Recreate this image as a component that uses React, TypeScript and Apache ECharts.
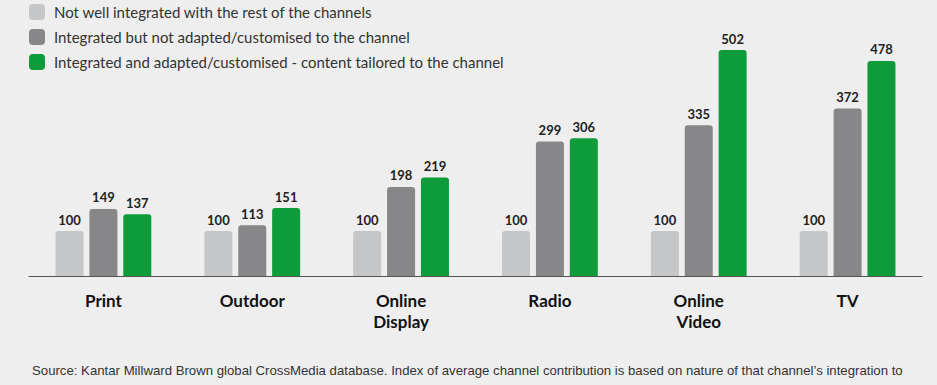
import React, { useEffect, useRef } from "react";
import * as echarts from "echarts";

const categories = ["Print", "Outdoor", "Online\nDisplay", "Radio", "Online\nVideo", "TV"];
const seriesNames = [
  "Not well integrated with the rest of the channels",
  "Integrated but not adapted/customised to the channel",
  "Integrated and adapted/customised - content tailored to the channel",
];
const notIntegrated = [100, 100, 100, 100, 100, 100];
const integratedNotAdapted = [149, 113, 198, 299, 335, 372];
const integratedAdapted = [137, 151, 219, 306, 502, 478];
const colors = ["#c5c6c8", "#87878a", "#0e9c3b"];
const sourceText =
  "Source: Kantar Millward Brown global CrossMedia database. Index of average channel contribution is based on nature of that channel\u2019s integration to";

export default function App() {
  const ref = useRef<HTMLDivElement>(null);
  useEffect(() => {
    document.body.style.margin = "0";
    const chart = echarts.init(ref.current!, null, { renderer: "svg" });
    const data = [notIntegrated, integratedNotAdapted, integratedAdapted];
    chart.setOption({
      animation: false,
      backgroundColor: "#eeeeee",
      textStyle: { fontFamily: "Lato" },
      legend: {
        orient: "vertical",
        left: 29,
        top: 4,
        padding: 0,
        itemWidth: 16,
        itemHeight: 16,
        itemGap: 9,
        icon: "roundRect",
        selectedMode: false,
        textStyle: { fontSize: 15, color: "#333", fontFamily: "Lato", padding: [0, 0, 0, 4] },
        data: seriesNames,
      },
      grid: { left: 29, right: 15, top: 6, height: 270, containLabel: false },
      xAxis: {
        type: "category",
        data: categories,
        axisLine: { lineStyle: { color: "#555", width: 1.2 } },
        axisTick: { show: false },
        axisLabel: {
          color: "#111",
          fontSize: 17,
          fontWeight: "bold",
          fontFamily: "Lato",
          lineHeight: 21,
          margin: 14,
          interval: 0,
        },
      },
      yAxis: { type: "value", min: 0, max: 600, show: false, splitLine: { show: false } },
      series: data.map((d, i) => ({
        name: seriesNames[i],
        type: "bar",
        data: d,
        barWidth: 28,
        barGap: "21%",
        itemStyle: { color: colors[i], borderRadius: [3, 3, 0, 0] },
        label: {
          show: true,
          position: "top",
          distance: 5,
          color: "#222",
          fontSize: 13,
          fontWeight: "bold",
          fontFamily: "Lato",
        },
      })),
      graphic: [
        {
          type: "text",
          left: 32,
          top: 364,
          style: { text: sourceText, fontSize: 13.2, fill: "#333", fontFamily: "Liberation Sans" },
        },
      ],
    });
    return () => chart.dispose();
  }, []);
  return <div ref={ref} style={{ width: 937, height: 385 }} />;
}
